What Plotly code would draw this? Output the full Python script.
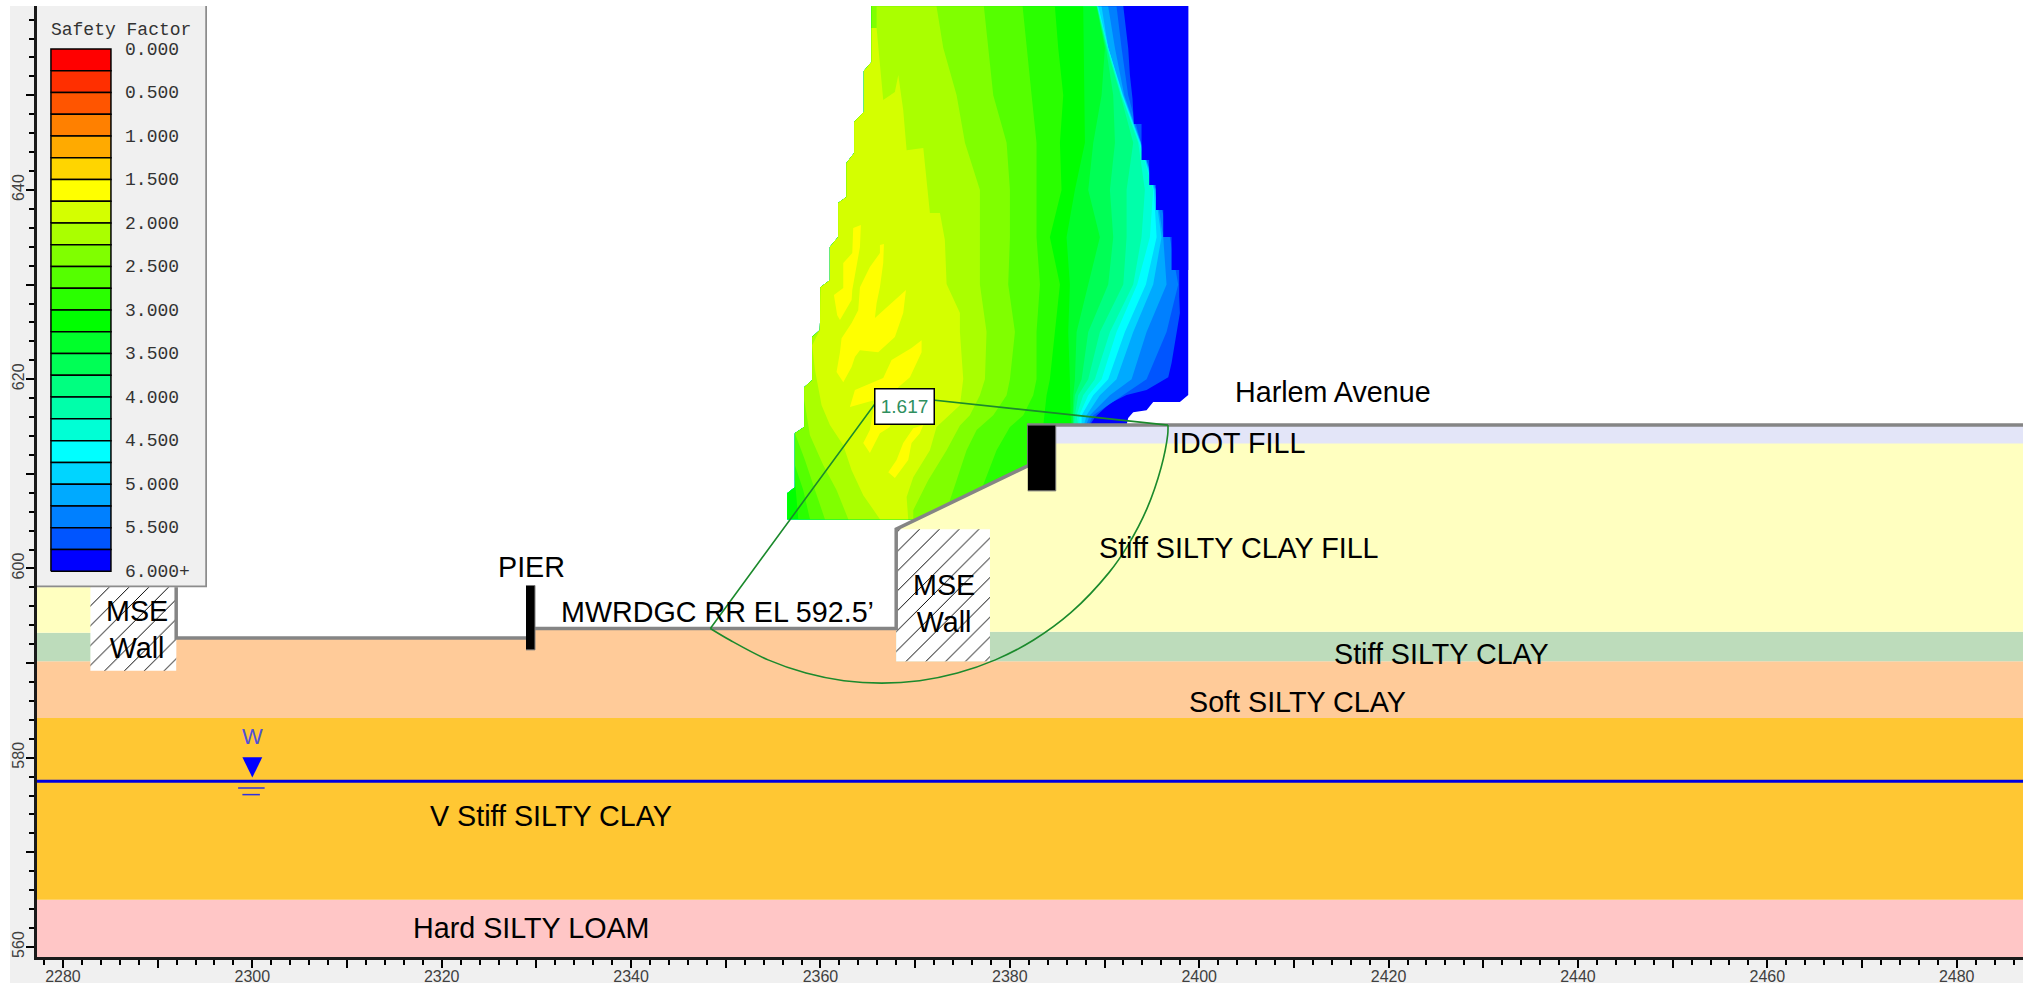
import plotly.graph_objects as go

# ---------- axes ----------
x_range = [2277.26, 2487.0]
y_range = [558.94, 659.44]
x_ticks = list(range(2280, 2490, 10))
x_tick_text = ["2280","","2300","","2320","","2340","","2360","","2380","","2400","","2420","","2440","","2460","","2480"]
y_ticks = [560,570,580,590,600,610,620,630,640,650]
y_tick_text = ["560","","580","","600","","620","","640",""]

# ---------- safety factor legend ----------
legend_colors = ["#ff0000","#ff2f00","#ff5500","#ff8000","#ffaa00","#ffd500","#ffff00","#d4ff00",
                 "#aaff00","#80ff00","#55ff00","#2aff00","#00ff00","#00ff2a","#00ff55","#00ff80",
                 "#00ffaa","#00ffd5","#00ffff","#00d5ff","#00aaff","#0080ff","#0055ff","#0000ff"]
legend_labels = ["0.000","0.500","1.000","1.500","2.000","2.500","3.000","3.500","4.000","4.500","5.000","5.500","6.000+"]

# ---------- safety factor field: outline of the grid ----------
outer_x = [2356.49,2356.49,2357.30,2357.30,2358.29,2358.29,2359.13,2359.13,2359.94,2360.01,2361.00,2361.00,
           2361.88,2361.88,2362.76,2362.76,2363.57,2363.57,2364.59,2364.59,2365.40,2365.40]
outer_y = [605.21,607.96,608.59,614.30,614.94,619.16,619.90,624.45,625.19,629.73,630.47,633.96,
           635.02,638.61,639.25,642.84,643.90,647.17,648.23,652.57,653.52,659.44]
blue_x = [2398.84,2398.84,2397.96,2395.14,2394.44,2393.03,2392.50,2392.33,2392.33]
blue_y = [659.44,618.32,617.58,617.58,616.73,616.52,615.89,615.15,605.21]

# safety factor contours: right-hand edge of each band at these elevations
iso_y = [659.4,655.0,650.0,645.0,640.0,635.0,630.0,625.0,620.0,618.3,616.2,615.1]
sf_5_75_x = [2397.85,2397.85,2397.89,2397.96,2397.08,2396.73,2394.44,2392.33,2390.57,2388.98,2388.46]
sf_5_75_y = [659.44,631.53,628.68,626.99,621.70,620.22,618.85,618.32,617.47,615.99,615.15]
sf_5_50_x = [2391.27,2391.80,2392.50,2393.84,2395.43,2396.90,2397.78,2396.55,2394.44,2391.98,2388.81,2388.28]
sf_5_25_x = [2390.39,2391.10,2392.08,2393.84,2395.43,2396.20,2396.55,2394.44,2392.86,2390.57,2388.46,2388.03]
sf_5_00_x = [2389.69,2390.39,2391.98,2393.81,2395.32,2396.02,2395.14,2393.03,2391.27,2389.51,2388.10,2387.82]
sf_4_75_x = [2389.34,2390.39,2391.91,2393.74,2395.21,2395.50,2394.37,2392.15,2390.39,2388.81,2387.58,2387.58]
sf_4_50_x = [2389.27,2390.39,2391.84,2393.67,2395.14,2394.79,2393.45,2391.27,2389.69,2388.28,2387.33,2387.40]
sf_4_25_x = [2389.23,2390.29,2391.76,2393.56,2394.26,2393.91,2393.03,2390.57,2388.98,2387.75,2387.05,2387.22]
sf_4_00_x = [2389.20,2390.22,2391.69,2393.03,2392.33,2392.33,2391.98,2389.51,2388.28,2387.22,2386.87,2386.77]
sf_3_75_x = [2389.16,2390.15,2390.92,2391.10,2390.57,2390.92,2390.39,2388.28,2387.58,2386.87,2386.70,2386.70]
sf_3_50_x = [2389.16,2390.04,2389.69,2388.81,2388.28,2389.51,2388.28,2387.05,2386.87,2386.70,2386.63,2386.63]
sf_3_25_x = [2387.75,2387.82,2387.93,2387.93,2386.87,2385.99,2386.34,2386.17,2386.34,2386.34,2386.41,2386.52]

sf_3_00_x = [2384.76,2385.11,2385.64,2385.29,2385.46,2384.23,2385.29,2384.76,2384.23,2383.88,2383.70,2383.53,2381.94,2381.94,2357.66,2357.30]
sf_3_00_y = [659.4,655.0,650.0,645.0,640.0,635.0,630.0,625.0,620.0,618.3,616.2,615.1,611.13,605.21,605.21,609.34]
sf_2_75_x = [2381.35,2381.77,2382.30,2382.82,2382.82,2382.82,2383.18,2382.82,2382.82,2382.47,2381.42,2380.01,2378.60,2377.19,2377.19,2358.89,2358.18,2357.30]
sf_2_75_y = [659.4,655.0,650.0,645.0,640.0,635.0,630.0,625.0,620.0,618.3,616.2,614.94,612.50,608.81,605.21,605.21,608.28,610.92]
sf_2_50_x = [2377.26,2377.72,2378.25,2379.66,2380.01,2380.01,2379.83,2380.54,2380.01,2379.66,2378.25,2376.49,2375.43,2374.38,2373.67,2373.67,2360.47,2359.42,2358.36]
sf_2_50_y = [659.4,655.0,650.0,645.0,640.0,635.0,630.0,625.0,620.0,618.3,616.2,614.62,612.50,609.33,607.22,605.21,605.21,608.28,611.45]
sf_2_25_x = [2365.93,2365.93,2372.26,2372.97,2374.38,2375.26,2376.84,2376.84,2376.84,2377.54,2377.37,2376.84,2375.78,2374.73,2373.32,2371.38,2369.80,2369.80,2362.94,2361.70,2360.30,2358.89,2358.29]
sf_2_25_y = [657.11,659.4,659.4,655.0,650.0,645.0,640.0,635.0,630.0,625.0,620.0,618.3,616.2,615.1,612.50,609.33,606.16,605.21,605.21,608.28,610.92,614.09,617.79]
sf_2_00_x = [2365.40,2365.93,2366.21,2366.63,2367.86,2368.22,2368.74,2369.10,2370.86,2371.21,2371.56,2372.62,2373.14,2373.32,2374.73,2374.73,2375.08,2374.73,2372.26,2371.56,2369.80,2369.10,2369.27,2366.28,2364.52,2363.29,2362.41,2361.00,2360.12,2359.42,2359.13]
sf_2_00_y = [657.11,657.11,654.05,649.50,650.35,652.14,648.44,644.20,644.43,640.73,637.56,637.56,634.70,630.05,626.99,624.98,620.01,617.26,614.94,612.50,609.65,607.54,605.21,605.21,607.75,610.39,613.03,615.15,617.26,620.96,623.60]

# patches below a safety factor of 1.75
low_a_x = [2363.46,2364.27,2364.17,2363.64,2363.36,2363.29,2362.76,2362.06,2361.77,2361.42,2362.41,2362.41,2363.36]
low_a_y = [635.97,636.29,633.96,631.21,629.42,628.36,627.51,626.25,626.77,628.89,629.63,632.27,633.33]
low_b_x = [2366.28,2366.70,2366.63,2366.28,2365.93,2365.75,2367.86,2369.03,2368.74,2367.86,2366.10,2364.17,2363.64,2363.29,2362.41,2361.70,2362.06,2362.23,2363.29,2363.99,2364.17,2365.22,2366.28]
low_b_y = [634.17,634.28,632.27,629.73,628.04,626.46,628.36,629.42,626.99,624.45,622.86,623.07,622.34,621.28,619.69,620.75,622.86,624.34,625.93,627.30,629.73,631.85,633.33]
low_c_x = [2370.68,2370.68,2369.45,2368.22,2367.69,2367.34,2366.28,2365.22,2364.52,2365.22,2365.75,2363.11,2363.64,2366.63,2367.51,2369.62]
low_c_y = [624.13,622.86,620.22,619.16,618.32,614.94,614.30,612.19,613.25,614.62,617.79,617.05,618.85,620.12,622.02,623.29]
low_d_x = [2370.86,2370.50,2369.62,2369.27,2367.86,2367.16,2368.04,2368.74,2369.80]
low_d_y = [615.15,614.30,613.25,611.45,609.55,610.18,611.45,613.25,614.83]

# stepped right edge of the grid, where the values reach 6.000+
cap_x = [2391.98,2392.50,2392.68,2392.96,2393.10,2393.91,2393.91,2394.72,2394.72,2395.43,2395.43,2396.20,2396.20,2397.08,2397.08,2397.85,2398.84,2398.84]
cap_y = [659.44,654.99,652.14,649.61,646.96,646.96,643.16,643.16,640.52,640.52,637.87,637.87,635.02,635.02,631.53,631.53,631.53,659.44]

# ---------- soil profile (feet) ----------
hard_x = [2277.26,2487,2487,2277.26]
hard_y = [558.94,558.94,565.0,565.0]
vstiff_y = [565.0,565.0,584.2,584.2]
soft_x = [2277.26,2487,2487,2368,2368,2329.3,2329.3,2291.96,2291.96,2277.26]
soft_y = [584.2,584.2,590.2,590.2,593.66,593.66,592.66,592.66,590.2,590.2]
stiff_l_x = [2277.26,2283,2283,2277.26]
stiff_l_y = [590.2,590.2,593.2,593.2]
stiff_r_x = [2368,2487,2487,2368]
stiff_r_y = [590.2,590.2,593.3,593.3]
fill_l_x = [2277.26,2283,2283,2277.26]
fill_l_y = [593.2,593.2,604,604]
fill_r_x = [2368,2487,2487,2382,2382,2368]
fill_r_y = [593.3,593.3,613.7,613.7,610.9,604.15]
idot_x = [2382,2487,2487,2382]
idot_y = [613.2,613.2,615.15,615.15]
wall_l_x = [2282.9,2291.96,2291.96,2282.9]
wall_l_y = [589.2,589.2,604,604]
wall_r_x = [2368,2377.9,2377.9,2368]
wall_r_y = [590.2,590.2,604.15,604.15]
ground_x = [2291.96,2291.96,2329.3,2329.3,2368,2368,2382,2382,2487]
ground_y = [604,592.66,592.66,593.66,593.66,604.15,610.9,615.15,615.15]
pier_x = [2328.9,2329.85,2329.85,2328.9]
pier_y = [591.4,591.4,598.2,598.2]
upper_wall_x = [2381.9,2384.85,2384.85,2381.9]
upper_wall_y = [608.2,608.2,615.15,615.15]

# ---------- water table ----------
water_x = [2277.26,2487]
water_y = [577.5,577.5]
water_mark_x = [2298.95,2301.05,2300]
water_mark_y = [580.05,580.05,577.9]
water_dash1_x = [2298.5,2301.3]
water_dash1_y = [576.8,576.8]
water_dash2_x = [2298.95,2300.8]
water_dash2_y = [576.1,576.1]

# ---------- critical slip surface ----------
arc_x = [2348.37,2350.47,2354.47,2358.47,2362.47,2366.47,2370.47,2374.47,2378.47,2382.47,2386.47,2390.47,2392.47,2394.47,2395.97,2396.67,2396.70]
arc_y = [593.66,592.41,590.34,588.95,588.14,587.88,588.14,588.95,590.34,592.41,595.35,599.56,602.44,606.29,610.64,614.11,615.15]
radius_x = [2396.70,2366.47,2348.37]
radius_y = [615.15,618.38,593.66]

labels = [
    ("Harlem Avenue",2414.15,618.66),("IDOT FILL",2404.2,613.3),("Stiff SILTY CLAY FILL",2404.2,602.2),
    ("Stiff SILTY CLAY",2425.6,590.94),("Soft SILTY CLAY",2410.4,585.9),("V Stiff SILTY CLAY",2331.5,573.8),
    ("Hard SILTY LOAM",2329.5,562.0),("PIER",2329.5,600.15),("MWRDGC RR EL 592.5’",2349.1,595.4),
    ("MSE<br>Wall",2287.8,593.5),("MSE<br>Wall",2373.0,596.3),
]

fig = go.Figure()

def poly(xs, ys, color, **kw):
    fig.add_trace(go.Scatter(x=xs, y=ys, mode="lines", fill="toself", fillcolor=color,
                             line=dict(width=0, color=color), hoverinfo="skip", showlegend=False, **kw))

def right_band(xs, ys, color):
    poly(xs + [xs[-1]] + outer_x, ys + [605.21] + outer_y, color)

# field, painted from the highest safety factor inward
poly(outer_x + blue_x, outer_y + blue_y, "#0000ff")
right_band(sf_5_75_x, sf_5_75_y, "#0055ff")
for band_x, band_c in [(sf_5_50_x,"#0080ff"),(sf_5_25_x,"#00aaff"),(sf_5_00_x,"#00d5ff"),(sf_4_75_x,"#00ffff"),
                       (sf_4_50_x,"#00ffd5"),(sf_4_25_x,"#00ffaa"),(sf_4_00_x,"#00ff80"),(sf_3_75_x,"#00ff55"),
                       (sf_3_50_x,"#00ff2a"),(sf_3_25_x,"#00ff00")]:
    right_band(band_x, iso_y, band_c)
poly(sf_3_00_x + outer_x[3:], sf_3_00_y + outer_y[3:], "#2aff00")
poly(sf_2_75_x + outer_x[3:], sf_2_75_y + outer_y[3:], "#55ff00")
poly(sf_2_50_x + outer_x[3:], sf_2_50_y + outer_y[3:], "#80ff00")
poly(sf_2_25_x + outer_x[5:21] + [2365.40], sf_2_25_y + outer_y[5:21] + [657.11], "#aaff00")
poly(sf_2_00_x + outer_x[8:21], sf_2_00_y + outer_y[8:21], "#d4ff00")
for lx, ly in [(low_a_x,low_a_y),(low_b_x,low_b_y),(low_c_x,low_c_y),(low_d_x,low_d_y)]:
    poly(lx, ly, "#ffff00")
poly(cap_x, cap_y, "#0000ff")

# soil
poly(hard_x, hard_y, "#ffc6c6")
poly(hard_x, vstiff_y, "#ffc733")
poly(soft_x, soft_y, "#ffcb99")
poly(stiff_l_x, stiff_l_y, "#bddcbb")
poly(stiff_r_x, stiff_r_y, "#bddcbb")
poly(fill_l_x, fill_l_y, "#ffffc0")
poly(fill_r_x, fill_r_y, "#ffffc0")
poly(idot_x, idot_y, "#e3e5f8")

hatch = dict(shape="/", fgcolor="#000000", fgopacity=1, fillmode="replace", bgcolor="white", size=14, solidity=0.07)
for wx, wy in [(wall_l_x,wall_l_y),(wall_r_x,wall_r_y)]:
    fig.add_trace(go.Scatter(x=wx, y=wy, mode="lines", fill="toself", fillcolor="white", fillpattern=hatch,
                             line=dict(width=0), hoverinfo="skip", showlegend=False))

fig.add_trace(go.Scatter(x=ground_x, y=ground_y, mode="lines", line=dict(color="#858585", width=3.5),
                         hoverinfo="skip", showlegend=False))
for bx, by in [(pier_x,pier_y),(upper_wall_x,upper_wall_y)]:
    fig.add_trace(go.Scatter(x=bx, y=by, mode="lines", fill="toself", fillcolor="#000000",
                             line=dict(width=1, color="#777777"), hoverinfo="skip", showlegend=False))

# water
fig.add_trace(go.Scatter(x=water_x, y=water_y, mode="lines", line=dict(color="#0000e0", width=3), hoverinfo="skip", showlegend=False))
poly(water_mark_x, water_mark_y, "#0000ff")
for dx, dy in [(water_dash1_x,water_dash1_y),(water_dash2_x,water_dash2_y)]:
    fig.add_trace(go.Scatter(x=dx, y=dy, mode="lines", line=dict(color="#3030e0", width=1.5), hoverinfo="skip", showlegend=False))

# slip surface
fig.add_trace(go.Scatter(x=arc_x, y=arc_y, mode="lines", line=dict(color="#1b8a2c", width=1.6, shape="spline"), hoverinfo="skip", showlegend=False))
fig.add_trace(go.Scatter(x=radius_x, y=radius_y, mode="lines", line=dict(color="#1b8a2c", width=1.6), hoverinfo="skip", showlegend=False))

# legend panel on its own axes
panel_top, panel_bottom = 25.98, -0.736
fig.add_trace(go.Scatter(x=[0,1,1,0], y=[panel_bottom,panel_bottom,panel_top,panel_top], xaxis="x2", yaxis="y2",
                         mode="lines", fill="toself", fillcolor="#f0f0f0", line=dict(width=0), hoverinfo="skip", showlegend=False))
fig.add_trace(go.Scatter(x=[0,1,1], y=[panel_bottom,panel_bottom,panel_top], xaxis="x2", yaxis="y2",
                         mode="lines", line=dict(color="#8c8c8c", width=3.5), hoverinfo="skip", showlegend=False))
for i, c in enumerate(legend_colors):
    fig.add_trace(go.Scatter(x=[0.082,0.435,0.435,0.082,0.082], y=[23-i,23-i,24-i,24-i,23-i], xaxis="x2", yaxis="y2",
                             mode="lines", fill="toself", fillcolor=c, line=dict(color="#000000", width=1.5),
                             hoverinfo="skip", showlegend=False))
mono = dict(family="Liberation Mono, Courier New, monospace", size=18, color="#333333")
fig.add_trace(go.Scatter(x=[0.518]*13, y=[23.95-2*k for k in range(13)], text=legend_labels, mode="text", xaxis="x2", yaxis="y2",
                         textposition="middle right", textfont=mono, hoverinfo="skip", showlegend=False))
fig.add_trace(go.Scatter(x=[0.082], y=[24.85], text=["Safety Factor"], mode="text", xaxis="x2", yaxis="y2",
                         textposition="middle right", textfont=mono, hoverinfo="skip", showlegend=False))

annotations = [dict(x=lx, y=ly, text=t, showarrow=False, xanchor="center", yanchor="middle",
                    font=dict(family="Liberation Sans, Arial, sans-serif", size=28.7, color="#000000"))
               for t, lx, ly in labels]
annotations.append(dict(x=2300, y=582.2, text="W", showarrow=False, xanchor="center", yanchor="middle",
                        font=dict(family="Liberation Sans, Arial, sans-serif", size=22, color="#5050d8")))
annotations.append(dict(x=2368.9, y=617.15, text="1.617", showarrow=False, xanchor="center", yanchor="middle",
                        font=dict(family="Liberation Sans, Arial, sans-serif", size=19, color="#2f8f5f"),
                        bgcolor="white", bordercolor="#000000", borderwidth=1.5, borderpad=3, width=52, height=28))

axis_font = dict(family="Liberation Sans, Arial, sans-serif", size=16, color="#404040")
fig.update_layout(
    width=2023, height=983, autosize=False,
    margin=dict(l=37, r=0, t=6, b=26.3, pad=0),
    paper_bgcolor="#f0f0f0", plot_bgcolor="#ffffff",
    showlegend=False, annotations=annotations,
    xaxis=dict(range=x_range, domain=[0,1], automargin=False, tickmode="array", tickvals=x_ticks, ticktext=x_tick_text, ticks="outside",
               ticklen=8, tickwidth=1.5, tickcolor="#000000", showline=True, linecolor="#1a1a1a", linewidth=3,
               showgrid=False, zeroline=False, tickfont=axis_font, tickangle=0, ticklabelstandoff=-5,
               minor=dict(dtick=2, tick0=2280, ticks="outside", ticklen=5, tickwidth=1.5, tickcolor="#000000", showgrid=False)),
    yaxis=dict(range=y_range, domain=[0,1], automargin=False, tickmode="array", tickvals=y_ticks, ticktext=y_tick_text, ticks="outside",
               ticklen=8, tickwidth=1.5, tickcolor="#000000", showline=True, linecolor="#1a1a1a", linewidth=3,
               showgrid=False, zeroline=False, tickfont=axis_font, tickangle=-90, ticklabelstandoff=-4,
               minor=dict(dtick=2, tick0=560, ticks="outside", ticklen=5, tickwidth=1.5, tickcolor="#000000", showgrid=False)),
    xaxis2=dict(domain=[0,0.0856], range=[0,1], visible=False, anchor="y2", fixedrange=True),
    yaxis2=dict(domain=[0.3889,1], range=[panel_bottom,panel_top], visible=False, anchor="x2", fixedrange=True),
    shapes=[
        dict(type="rect", xref="paper", yref="paper", x0=-0.0187, x1=-0.0136, y0=-0.028, y1=1.0064,
             fillcolor="white", line=dict(width=0), layer="below"),
        dict(type="rect", xref="paper", yref="paper", x0=-0.0187, x1=1.0, y0=1.0, y1=1.0064,
             fillcolor="white", line=dict(width=0), layer="below"),
    ],
)

fig.write_html("out.html", config=dict(displayModeBar=False),
               post_script="document.body.style.margin='0';document.body.style.overflow='hidden';")
